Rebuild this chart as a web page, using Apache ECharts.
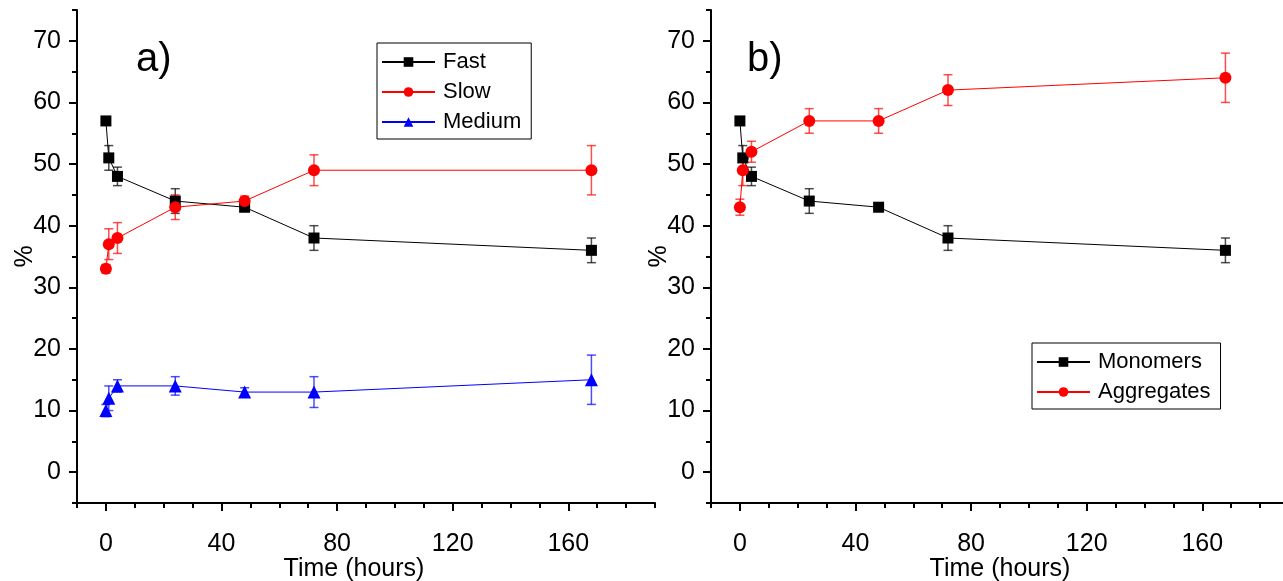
<!DOCTYPE html>
<html>
<head>
<meta charset="utf-8">
<script src="https://cdn.jsdelivr.net/npm/echarts@6/dist/echarts.min.js"></script>
</head>
<body style="margin:0;background:#fff">
<div id="chartDom" style="width:1283px;height:581px;"></div>
<script>
// sampling times (hours)
var hours = [0, 1, 4, 24, 48, 72, 168];

// panel a)
var fast = [57, 51, 48, 44, 43, 38, 36];
var fastErr = [0.6, 2, 1.5, 2, 0.7, 2, 2];
var slow = [33, 37, 38, 43, 44, 49, 49];
var slowErr = [0.7, 2.5, 2.5, 2, 0.8, 2.5, 4];
var medium = [10, 12, 14, 14, 13, 13, 15];
var mediumErr = [1, 2, 1, 1.5, 0.7, 2.5, 4];

// panel b)
var monomers = [57, 51, 48, 44, 43, 38, 36];
var monomersErr = [0.6, 2, 1.5, 2, 0.7, 2, 2];
var aggregates = [43, 49, 52, 57, 57, 62, 64];
var aggregatesErr = [1.3, 2.5, 1.7, 2, 2, 2.5, 4];

// ticks
var xMajor = [0, 40, 80, 120, 160];
var xMinor = [-10, 10, 20, 30, 50, 60, 70, 90, 100, 110, 130, 140, 150, 170, 180, 190];
var yMajor = [0, 10, 20, 30, 40, 50, 60, 70];
var yMinor = [-5, 5, 15, 25, 35, 45, 55, 65, 75];

var FONT = '"Liberation Sans", Arial, sans-serif';

function pair(vals) {
    return hours.map(function (h, i) { return [h, vals[i]]; });
}

function xAxes(gi) {
    return [{
        type: 'value', gridIndex: gi, min: -10, max: 190, position: 'bottom',
        name: 'Time (hours)', nameLocation: 'middle', nameGap: 54, nameMoveOverlap: false,
        nameTextStyle: { fontFamily: FONT, fontSize: 25, color: '#000', padding: gi === 0 ? [0, 24, 0, 0] : 0 },
        axisLine: { onZero: false, lineStyle: { color: '#000', width: 2 } },
        axisTick: { customValues: xMajor, length: 8, lineStyle: { color: '#000', width: 2 } },
        axisLabel: { customValues: xMajor, fontFamily: FONT, fontSize: 25, color: '#000', margin: 29 },
        splitLine: { show: false }
    }, {
        type: 'value', gridIndex: gi, min: -10, max: 190, position: 'bottom',
        axisLine: { show: false, onZero: false },
        axisTick: { customValues: xMinor, length: 5, lineStyle: { color: '#000', width: 2 } },
        axisLabel: { show: false },
        splitLine: { show: false }
    }];
}

function yAxes(gi) {
    return [{
        type: 'value', gridIndex: gi, min: -5, max: 75, position: 'left',
        name: '%', nameLocation: 'middle', nameGap: 39, nameRotate: 90, nameMoveOverlap: false,
        nameTextStyle: { fontFamily: FONT, fontSize: 25, color: '#000' },
        axisLine: { onZero: false, lineStyle: { color: '#000', width: 2 } },
        axisTick: { customValues: yMajor, length: 8, lineStyle: { color: '#000', width: 2 } },
        axisLabel: { customValues: yMajor, fontFamily: FONT, fontSize: 25, color: '#000', margin: 16 },
        splitLine: { show: false }
    }, {
        type: 'value', gridIndex: gi, min: -5, max: 75, position: 'left',
        axisLine: { show: false, onZero: false },
        axisTick: { customValues: yMinor, length: 5, lineStyle: { color: '#000', width: 2 } },
        axisLabel: { show: false },
        splitLine: { show: false }
    }];
}

function errSeries(xi, yi, vals, errs, color) {
    return {
        type: 'custom', xAxisIndex: xi, yAxisIndex: yi, silent: true, z: 1,
        data: hours.map(function (h, i) { return [h, vals[i] - errs[i], vals[i] + errs[i]]; }),
        renderItem: function (params, api) {
            var lo = api.coord([api.value(0), api.value(1)]);
            var hi = api.coord([api.value(0), api.value(2)]);
            var w = 4.5;
            var st = { stroke: color, lineWidth: 1.5, opacity: 0.7 };
            return {
                type: 'group', children: [
                    { type: 'line', shape: { x1: lo[0], y1: lo[1], x2: hi[0], y2: hi[1] }, style: st },
                    { type: 'line', shape: { x1: lo[0] - w, y1: lo[1], x2: lo[0] + w, y2: lo[1] }, style: st },
                    { type: 'line', shape: { x1: hi[0] - w, y1: hi[1], x2: hi[0] + w, y2: hi[1] }, style: st }
                ]
            };
        }
    };
}

function lineSeries(name, xi, yi, vals, color, symbol, size) {
    return {
        name: name, type: 'line', xAxisIndex: xi, yAxisIndex: yi, z: 3,
        data: pair(vals), symbol: symbol, symbolSize: size, showSymbol: true,
        lineStyle: { color: color, width: 1 },
        itemStyle: { color: color },
        emphasis: { disabled: true }
    };
}

function legendBox(names, left, top) {
    return {
        data: names, orient: 'vertical', left: left, top: top,
        itemWidth: 53, itemHeight: 12, itemGap: 8,
        padding: [8, 10, 6, 4],
        borderColor: '#000', borderWidth: 1,
        textStyle: { fontFamily: FONT, fontSize: 22, lineHeight: 22, color: '#000', padding: [0, 0, 0, 3] },
        selectedMode: false
    };
}

var myChart = echarts.init(document.getElementById('chartDom'));

var option = {
    animation: false,
    backgroundColor: '#fff',
    title: [
        { text: 'a)', left: 131, top: 35, textStyle: { fontFamily: FONT, fontSize: 40, fontWeight: 'normal', color: '#000' } },
        { text: 'b)', left: 742, top: 35, textStyle: { fontFamily: FONT, fontSize: 40, fontWeight: 'normal', color: '#000' } }
    ],
    legend: [
        legendBox(['Fast', 'Slow', 'Medium'], 377, 43),
        legendBox(['Monomers', 'Aggregates'], 1032, 343)
    ],
    grid: [
        { left: 77, top: 10, width: 578, height: 493, outerBoundsMode: 'none', containLabel: false },
        { left: 711, top: 10, width: 578, height: 493, outerBoundsMode: 'none', containLabel: false }
    ],
    xAxis: xAxes(0).concat(xAxes(1)),
    yAxis: yAxes(0).concat(yAxes(1)),
    series: [
        errSeries(0, 0, fast, fastErr, '#000'),
        errSeries(0, 0, slow, slowErr, '#ff0000'),
        errSeries(0, 0, medium, mediumErr, '#0000ff'),
        errSeries(2, 2, monomers, monomersErr, '#000'),
        errSeries(2, 2, aggregates, aggregatesErr, '#ff0000'),
        lineSeries('Fast', 0, 0, fast, '#000', 'rect', 11),
        lineSeries('Slow', 0, 0, slow, '#ff0000', 'circle', 12),
        lineSeries('Medium', 0, 0, medium, '#0000ff', 'triangle', 13),
        lineSeries('Monomers', 2, 2, monomers, '#000', 'rect', 11),
        lineSeries('Aggregates', 2, 2, aggregates, '#ff0000', 'circle', 12)
    ]
};

myChart.setOption(option);
window.onresize = myChart.resize;
</script>
</body>
</html>
